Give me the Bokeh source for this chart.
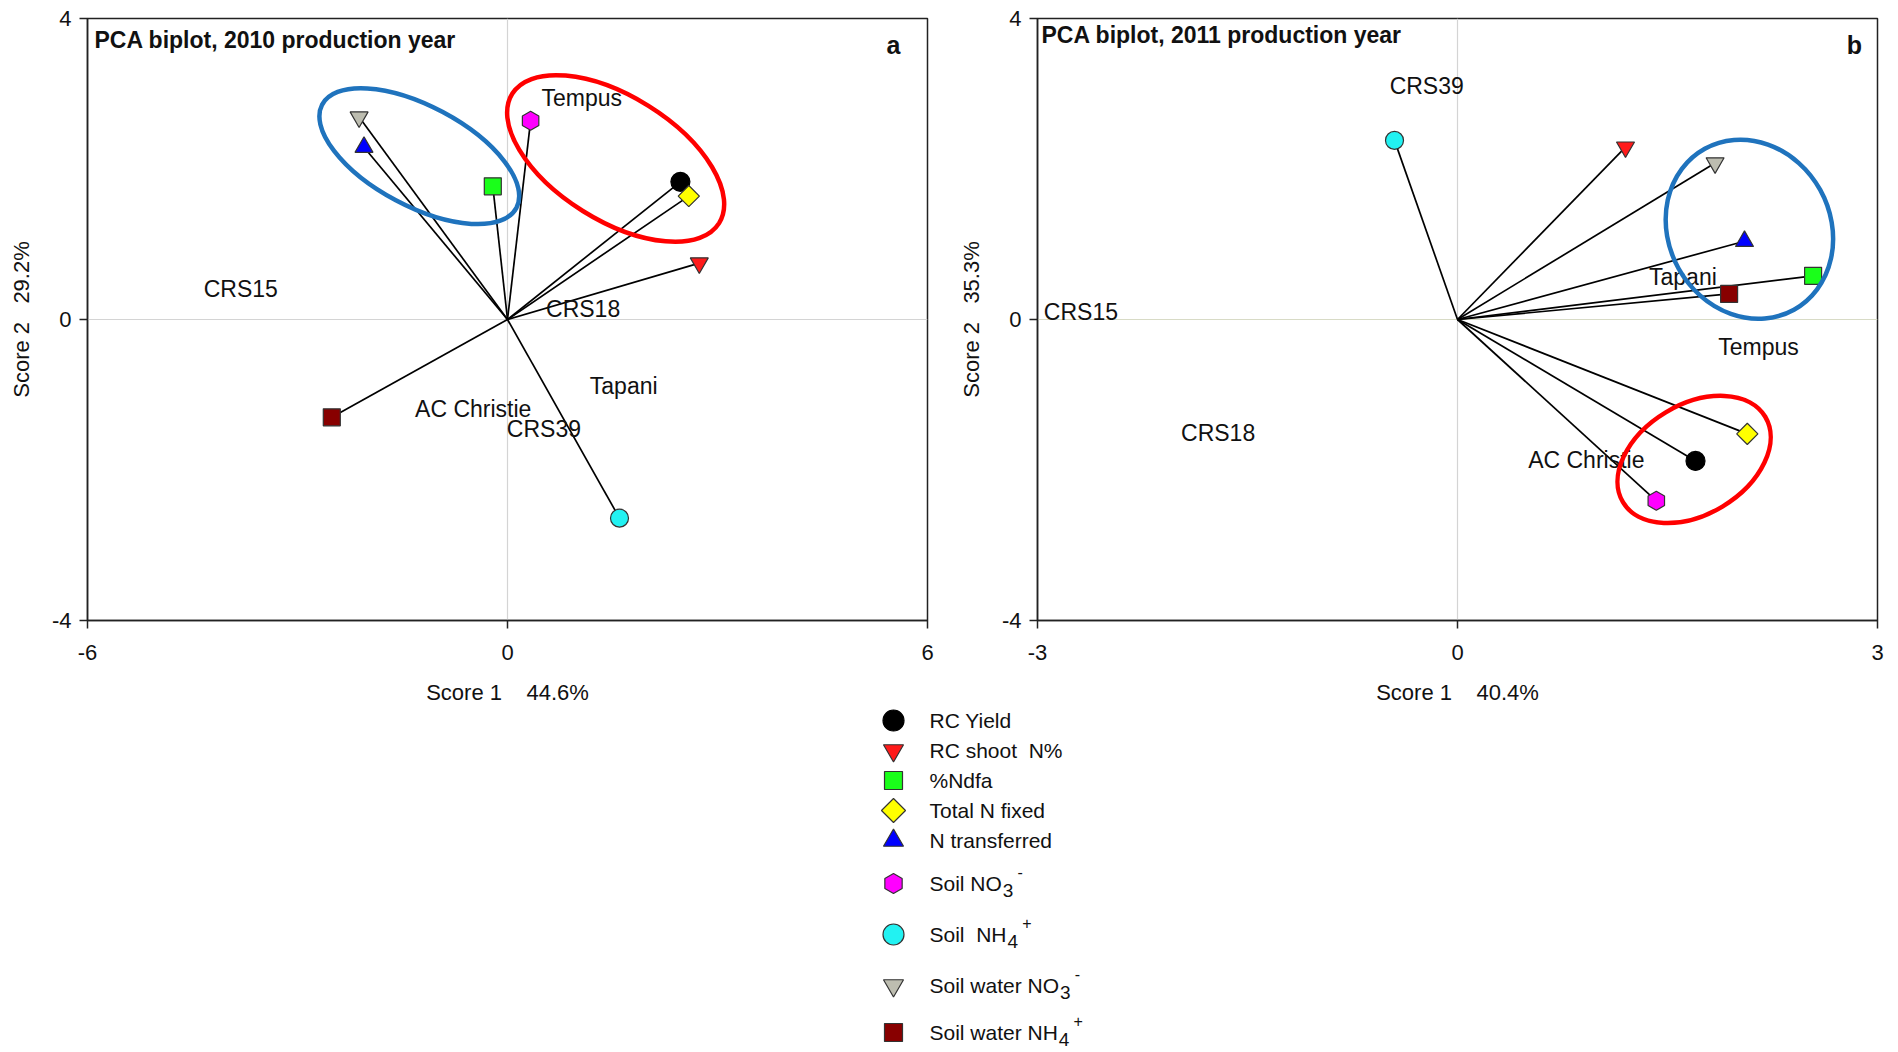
import numpy as np
from bokeh.plotting import figure
from bokeh.models import Range1d, FixedTicker, Span, Label, ColumnDataSource
from bokeh.layouts import column, row
from bokeh.embed import file_html
from bokeh.resources import INLINE
from bokeh.core.properties import value

# ---------------- data ----------------
variables = ["RC Yield", "RC shoot\u00a0\u00a0N%", "%Ndfa", "Total N fixed", "N transferred",
             "Soil NO", "Soil\u00a0\u00a0NH", "Soil water NO", "Soil water NH"]
var_sub = ["", "", "", "", "", "3", "4", "3", "4"]
var_sup = ["", "", "", "", "", "-", "+", "-", "+"]

# 2010 production year (panel a) variable loadings
x2010 = [2.47, 2.74, -0.21, 2.59, -2.05, 0.33, 1.60, -2.12, -2.51]
y2010 = [1.83, 0.75, 1.77, 1.64, 2.29, 2.64, -2.64, 2.69, -1.30]
# 2011 production year (panel b)
x2011 = [1.70, 1.20, 2.54, 2.07, 2.05, 1.42, -0.45, 1.84, 1.94]
y2011 = [-1.88, 2.29, 0.58, -1.52, 1.04, -2.41, 2.38, 2.08, 0.34]

cult2010 = ["Tempus", "CRS15", "CRS18", "Tapani", "AC Christie", "CRS39"]
cx2010 = [1.06, -3.81, 1.08, 1.66, -0.49, 0.52]
cy2010 = [2.94, 0.41, 0.14, -0.89, -1.19, -1.45]
cult2011 = ["CRS39", "CRS15", "Tapani", "Tempus", "CRS18", "AC Christie"]
cx2011 = [-0.22, -2.69, 1.61, 2.15, -1.71, 0.92]
cy2011 = [3.10, 0.10, 0.57, -0.36, -1.51, -1.87]

x_ticks_2010 = [-6, 0, 6]
x_ticks_2011 = [-3, 0, 3]
y_ticks = [-4, 0, 4]

# highlighted groups (ellipses): centre in data units, axes in pixels, angle in degrees
ell2010_x = [-1.26, 1.545]
ell2010_y = [2.17, 2.14]
ell2010_w = [220, 244]
ell2010_h = [100, 124]
ell2010_a = [-28, -32]
ell2011_x = [2.085, 1.69]
ell2011_y = [1.20, -1.86]
ell2011_w = [184, 166]
ell2011_h = [162, 110]
ell2011_a = [-61, 31]
ell_colors = ["#1f73bd", "#ff0000"]

# ---------------- styles ----------------
markers = ["circle", "inverted_triangle", "square", "square", "triangle",
           "hex", "circle", "inverted_triangle", "square"]
marker_angle = list(np.radians([0, 0, 0, 45, 0, 30, 0, 0, 0]))
colors = ["#000000", "#ff1a1a", "#1aff1a", "#ffff00", "#0000ff",
          "#ff00ff", "#22f2f2", "#bdbdb0", "#880000"]
mline = ["#000000"] + ["#333333"] * 8
psize = [19, 18, 17, 15, 18, 19, 18, 18, 17]
lsize = [21, 20, 18, 17, 20, 20, 21, 20, 18]

FONT = "Liberation Sans"
FW = 840
FH = 602
TOP = 18
BOTTOM = 88


def make_panel(xs, ys, names, lx, ly, xticks, xlab, ylab, title, letter,
               ex, ey, ew, eh, ea, bl, br, title_off, letter_off, hcolor):
    xlim = xticks[-1]
    p = figure(width=bl + FW + br, height=TOP + FH + BOTTOM,
               x_range=Range1d(xticks[0], xticks[-1]), y_range=Range1d(y_ticks[0], y_ticks[-1]),
               output_backend="svg", toolbar_location=None,
               min_border_left=bl, min_border_right=br,
               min_border_top=TOP, min_border_bottom=BOTTOM)
    p.grid.visible = False
    p.outline_line_color = "#222222"
    p.outline_line_width = 1.5
    p.background_fill_color = "white"
    p.xaxis.ticker = FixedTicker(ticks=xticks)
    p.yaxis.ticker = FixedTicker(ticks=y_ticks)
    p.xaxis.major_label_overrides = {t: str(t) for t in xticks}
    p.yaxis.major_label_overrides = {t: str(t) for t in y_ticks}
    for ax in p.axis:
        ax.axis_line_color = "#222222"
        ax.axis_line_width = 1.5
        ax.major_tick_line_color = "#222222"
        ax.major_tick_line_width = 1.5
        ax.major_tick_out = 8
        ax.major_tick_in = 0
        ax.minor_tick_line_color = None
        ax.major_label_text_font = FONT
        ax.major_label_text_font_size = "22px"
        ax.major_label_text_color = "#111111"
        ax.axis_label_text_font = FONT
        ax.axis_label_text_font_size = "22px"
        ax.axis_label_text_font_style = "normal"
        ax.axis_label_text_color = "#111111"
    p.yaxis.major_label_standoff = 8
    p.yaxis.axis_label_standoff = 15
    p.xaxis.major_label_standoff = 16
    p.xaxis.axis_label_standoff = 17
    p.xaxis.axis_label = xlab
    p.yaxis.axis_label = ylab

    p.add_layout(Span(location=0, dimension="height", line_color="#d4d4d4",
                      line_width=1.2, level="underlay"))
    p.add_layout(Span(location=0, dimension="width", line_color=hcolor,
                      line_width=1.2, level="underlay"))

    p.segment(x0=0, y0=0, x1=xs, y1=ys, line_color="black", line_width=1.7)
    src = ColumnDataSource(dict(x=xs, y=ys, marker=markers, color=colors,
                                angle=marker_angle, lc=mline, size=psize))
    p.scatter("x", "y", marker="marker", size="size", angle="angle",
              fill_color="color", line_color="lc", line_width=1.2, source=src)

    p.text(x=lx, y=ly, text=names, text_font=value(FONT), text_font_size="23px",
           text_align="center", text_baseline="middle", text_color="#111111")

    p.ellipse(x=ex, y=ey, width=ew, height=eh, angle=ea, angle_units="deg",
              width_units="screen", height_units="screen",
              fill_color=None, line_color=ell_colors, line_width=4.5)

    p.add_layout(Label(x=xticks[0], y=y_ticks[-1], x_offset=title_off[0], y_offset=title_off[1],
                       text=title, text_font=FONT, text_font_style="bold",
                       text_font_size="23px", text_baseline="middle",
                       text_align="left", text_color="#111111"))
    p.add_layout(Label(x=xlim, y=y_ticks[-1], x_offset=letter_off[0], y_offset=letter_off[1],
                       text=letter, text_font=FONT, text_font_style="bold",
                       text_font_size="25px", text_baseline="middle",
                       text_align="center", text_color="#111111"))
    return p


NB = "\u00a0"
p1 = make_panel(x2010, y2010, cult2010, cx2010, cy2010, x_ticks_2010,
                "Score 1" + NB * 4 + "44.6%", "Score 2" + NB * 3 + "29.2%",
                "PCA biplot, 2010 production year", "a",
                ell2010_x, ell2010_y, ell2010_w, ell2010_h, ell2010_a,
                87, 28, (7, -21), (-34, -26), "#d4d4d4")
p2 = make_panel(x2011, y2011, cult2011, cx2011, cy2011, x_ticks_2011,
                "Score 1" + NB * 4 + "40.4%", "Score 2" + NB * 3 + "35.3%",
                "PCA biplot, 2011 production year", "b",
                ell2011_x, ell2011_y, ell2011_w, ell2011_h, ell2011_a,
                82, 21, (4, -16), (-23, -26), "#d8dbc6")

# ---------------- legend ----------------
LW, LH = 1898, 1052 - (TOP + FH + BOTTOM)
leg = figure(width=LW, height=LH, x_range=Range1d(0, LW), y_range=Range1d(LH, 0),
             output_backend="svg", toolbar_location=None, min_border=0,
             x_axis_location=None, y_axis_location=None)
leg.grid.visible = False
leg.outline_line_color = None

row_y = [12, 42, 72, 102, 132, 175, 226, 277, 324]
mark_x = 893
text_x = 929

lsrc = ColumnDataSource(dict(x=[mark_x] * len(variables), y=row_y, marker=markers,
                             color=colors, angle=marker_angle, lc=mline, size=lsize))
leg.scatter("x", "y", marker="marker", size="size", angle="angle",
            fill_color="color", line_color="lc", line_width=1.2, source=lsrc)
leg.text(x=[text_x] * len(variables), y=row_y, text=variables, text_font=value(FONT),
         text_font_size="21px", text_align="left", text_baseline="middle",
         text_color="#111111")

AW = {"R": 722, "C": 722, " ": 278, NB: 278, "Y": 667, "i": 222, "e": 556, "l": 222,
      "d": 556, "s": 500, "h": 556, "o": 556, "t": 278, "N": 722, "%": 889, "a": 556,
      "f": 278, "T": 611, "x": 500, "n": 556, "r": 333, "S": 667, "O": 778, "H": 722,
      "w": 722, "3": 556, "4": 556, "-": 333, "+": 584}


def tw(s, size):
    return sum(AW.get(c, 556) for c in s) * size / 1000.0


sub_x, sub_y, sub_t, sup_x, sup_y, sup_t = [], [], [], [], [], []
for name, sb, sp, yy in zip(variables, var_sub, var_sup, row_y):
    if sb:
        sx = text_x + tw(name, 21) + 1
        sub_x.append(sx)
        sub_y.append(yy + 7)
        sub_t.append(sb)
        sup_x.append(sx + tw(sb, 21) + 3)
        sup_y.append(yy - 12)
        sup_t.append(sp)
leg.text(x=sub_x, y=sub_y, text=sub_t, text_font=value(FONT), text_font_size="19px",
         text_align="left", text_baseline="middle", text_color="#111111")
leg.text(x=sup_x, y=sup_y, text=sup_t, text_font=value(FONT), text_font_size="16px",
         text_align="left", text_baseline="middle", text_color="#111111")

layout = column(row(p1, p2), leg)
open("out.html", "w").write(file_html(layout, INLINE))
